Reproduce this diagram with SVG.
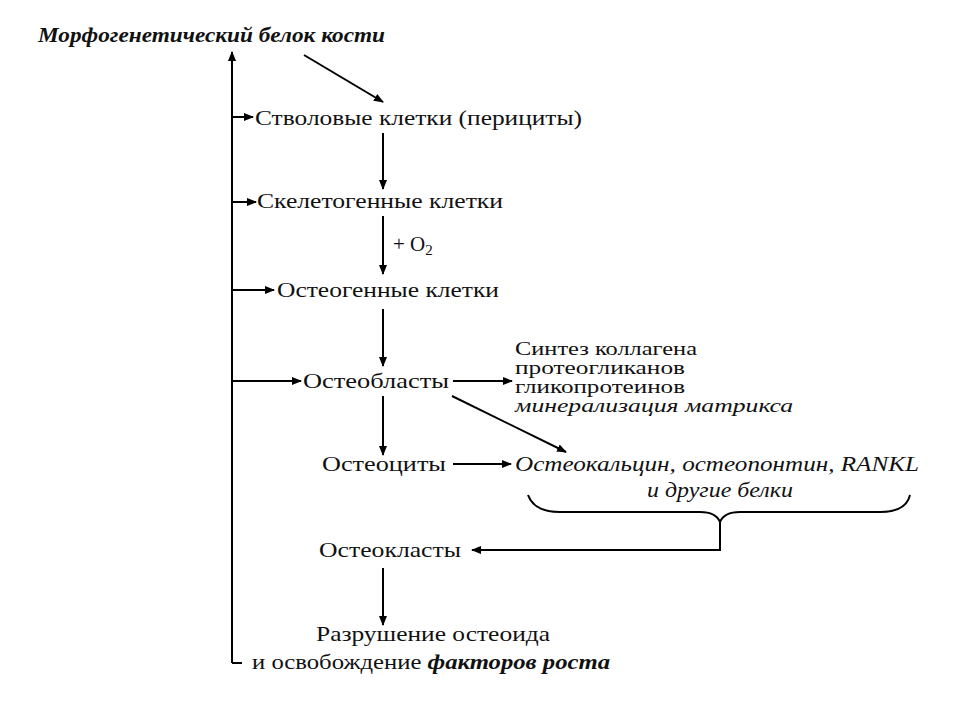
<svg xmlns="http://www.w3.org/2000/svg" width="960" height="720" viewBox="0 0 960 720">
<defs>
<marker id="ah" markerWidth="10" markerHeight="10" refX="9" refY="5" orient="auto" markerUnits="userSpaceOnUse">
<path d="M0,1 L10,5 L0,9 Z" fill="#000"/>
</marker>
<style>
.t{font-family:"Liberation Serif","Times New Roman",serif;font-size:21px;fill:#111}
.s{font-size:18px}
.i{font-style:italic}
.b{font-weight:bold}
.ln{stroke:#000;stroke-width:2;fill:none}
</style>
</defs>
<rect width="960" height="720" fill="#fff"/>
<g id="connectors">
<line class="ln" x1="232" y1="663" x2="232" y2="52" marker-end="url(#ah)"/>
<line class="ln" x1="232" y1="663" x2="242" y2="663"/>
<line class="ln" x1="304" y1="55" x2="383" y2="102" marker-end="url(#ah)"/>
<line class="ln" x1="232" y1="117" x2="253" y2="117" marker-end="url(#ah)"/>
<line class="ln" x1="383" y1="133" x2="383" y2="189" marker-end="url(#ah)"/>
<line class="ln" x1="232" y1="202" x2="256" y2="202" marker-end="url(#ah)"/>
<line class="ln" x1="383" y1="216" x2="383" y2="274" marker-end="url(#ah)"/>
<line class="ln" x1="232" y1="290" x2="274" y2="290" marker-end="url(#ah)"/>
<line class="ln" x1="383" y1="309" x2="383" y2="366" marker-end="url(#ah)"/>
<line class="ln" x1="232" y1="381" x2="301" y2="381" marker-end="url(#ah)"/>
<line class="ln" x1="453" y1="381" x2="512" y2="381" marker-end="url(#ah)"/>
<line class="ln" x1="452" y1="396" x2="566" y2="452" marker-end="url(#ah)"/>
<line class="ln" x1="383" y1="396" x2="383" y2="455" marker-end="url(#ah)"/>
<line class="ln" x1="453" y1="464" x2="511" y2="464" marker-end="url(#ah)"/>
<path class="ln" d="M528,495 Q534,512 560,512 L700,512 Q716,512 720,522 Q724,512 740,512 L880,512 Q906,512 910,495"/>
<polyline class="ln" points="720,522 720,550 472,550" marker-end="url(#ah)"/>
<line class="ln" x1="383" y1="568" x2="383" y2="625" marker-end="url(#ah)"/>
</g>
<g id="title"><text class="t i b" x="38" y="42" font-size="19" textLength="347" lengthAdjust="spacingAndGlyphs">Морфогенетический белок кости</text></g>
<g id="stem"><text class="t" x="255" y="125" textLength="327" lengthAdjust="spacingAndGlyphs">Стволовые клетки (перициты)</text></g>
<g id="skeletogenic"><text class="t" x="257" y="208" textLength="246" lengthAdjust="spacingAndGlyphs">Скелетогенные клетки</text></g>
<g id="o2"><text class="t" x="393" y="251">+ O<tspan font-size="15" dy="4">2</tspan></text></g>
<g id="osteogenic"><text class="t" x="277" y="297" textLength="222" lengthAdjust="spacingAndGlyphs">Остеогенные клетки</text></g>
<g id="osteoblasts"><text class="t" x="303" y="388" textLength="146" lengthAdjust="spacingAndGlyphs">Остеобласты</text></g>
<g id="synthesis">
<text class="t s" x="515" y="355" textLength="182" lengthAdjust="spacingAndGlyphs">Синтез коллагена</text>
<text class="t s" x="515" y="374" textLength="170" lengthAdjust="spacingAndGlyphs">протеогликанов</text>
<text class="t s" x="515" y="393" textLength="170" lengthAdjust="spacingAndGlyphs">гликопротеинов</text>
<text class="t s i" x="515" y="412" textLength="278" lengthAdjust="spacingAndGlyphs">минерализация матрикса</text>
</g>
<g id="osteocytes"><text class="t" x="322" y="471" textLength="124" lengthAdjust="spacingAndGlyphs">Остеоциты</text></g>
<g id="proteins">
<text class="t i" x="515" y="471" textLength="404" lengthAdjust="spacingAndGlyphs">Остеокальцин, остеопонтин, RANKL</text>
<text class="t i" x="647" y="497" textLength="146" lengthAdjust="spacingAndGlyphs">и другие белки</text>
</g>
<g id="osteoclasts"><text class="t" x="319" y="557" textLength="142" lengthAdjust="spacingAndGlyphs">Остеокласты</text></g>
<g id="destruction">
<text class="t" x="316" y="641" textLength="234" lengthAdjust="spacingAndGlyphs">Разрушение остеоида</text>
<text class="t" x="252" y="669" textLength="358" lengthAdjust="spacingAndGlyphs">и освобождение <tspan class="i b">факторов роста</tspan></text>
</g>
</svg>
